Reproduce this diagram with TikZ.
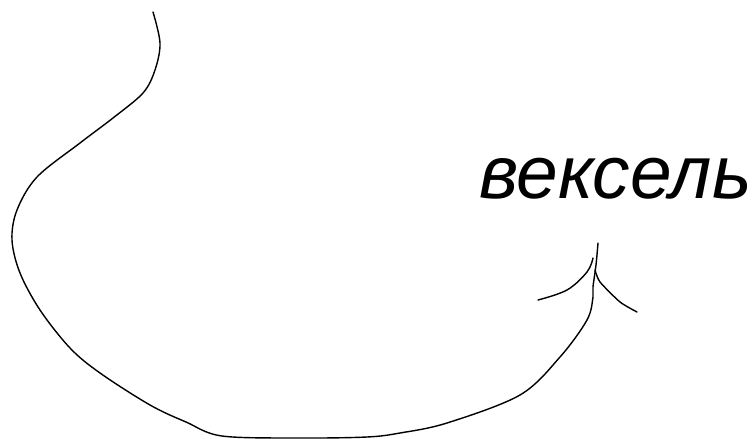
\documentclass[tikz,border=0pt]{standalone}
\usepackage{fontspec}
\setmainfont{Liberation Sans}
\usepackage{tikz}
\usetikzlibrary{positioning}

\begin{document}
\begin{tikzpicture}[
    x=1pt, y=-1pt,
    word/.style={inner sep=0pt, anchor=base west, font=\fontsize{75}{80}\selectfont\itshape},
    stroke/.style={line width=1.4pt, line cap=round, line join=round}
]
    \useasboundingbox (0,0) rectangle (753,439);
    \node[word] (w) at (479,198) {вексель};
    \coordinate (tip) at (598,243);
    % long hand-drawn curve up to the arrow
    \draw[stroke] plot[smooth, tension=0.55] coordinates {
        (153,12) (160,43) (155,70) (143,93) (113,118) (80,143) (37,177)
        (17,210) (12,240) (20,273) (40,310) (70,348) (100,373) (150,405)
        (186,422) (222,436) (300,438) (367,437) (400,433) (447,423)
        (520,395) (560,357) (587,320) (593,297) (593,287) (596,265) (tip)};
    % arrow wings
    \draw[stroke] plot[smooth, tension=0.6] coordinates {
        (538,300) (567,290) (587,272) (593,258)};
    \draw[stroke] plot[smooth, tension=0.4] coordinates {
        (595,270) (600,282) (620,302) (637,312)};
\end{tikzpicture}
\end{document}
